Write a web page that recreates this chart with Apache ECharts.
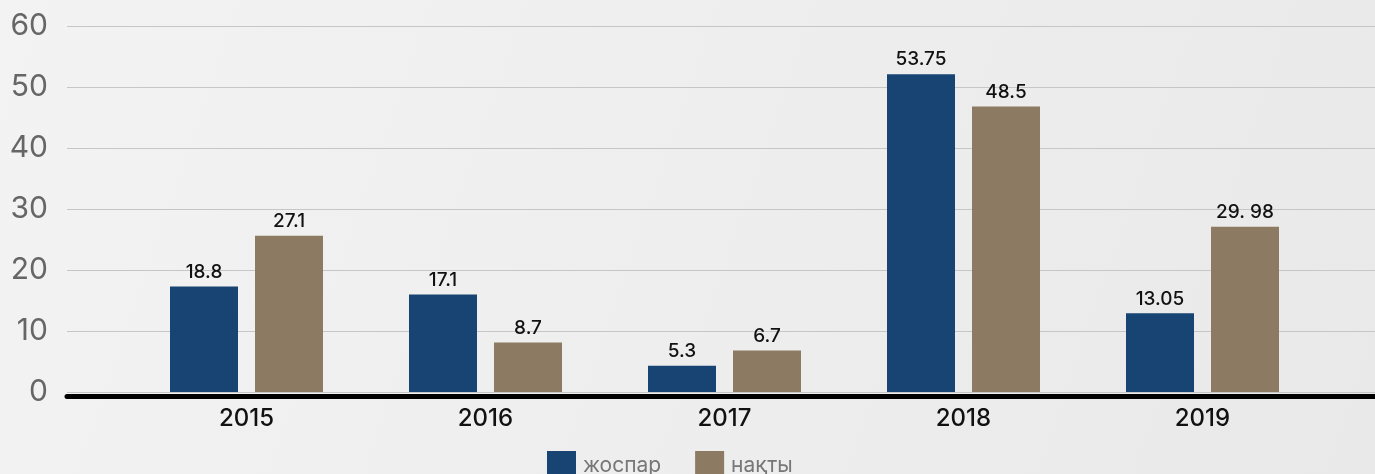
<!DOCTYPE html>
<html><head><meta charset="utf-8">
<script src="https://cdn.jsdelivr.net/npm/echarts@6/dist/echarts.min.js"></script>
<style>html,body{margin:0;padding:0;}#c{width:1375px;height:474px;}</style>
</head><body><div id="c"></div>
<script>
const categories = ['2015', '2016', '2017', '2018', '2019'];
const seriesNames = ['жоспар', 'нақты'];
// bar heights as drawn in the picture
const planValues = [17.3, 16.0, 4.3, 52.1, 12.9];
const actualValues = [25.6, 8.1, 6.8, 46.8, 27.1];
// value labels as printed above the bars
const planLabels = ['18.8', '17.1', '5.3', '53.75', '13.05'];
const actualLabels = ['27.1', '8.7', '6.7', '48.5', '29. 98'];
const yTicks = [0, 10, 20, 30, 40, 50, 60];

const FONT = 'Inter';
const chart = echarts.init(document.getElementById('c'));
chart.setOption({
  backgroundColor: new echarts.graphic.LinearGradient(0, 0, 1, 1, [
    {offset: 0, color: '#f3f3f3'}, {offset: 1, color: '#e9e9e9'}
  ]),
  animation: false,
  textStyle: {fontFamily: FONT},
  legend: {
    data: seriesNames, left: 547, top: 451, padding: 0, itemWidth: 29, itemHeight: 29, itemGap: 34,
    icon: 'rect',
    textStyle: {fontFamily: FONT, fontSize: 21, color: '#777777', padding: [0, 0, 0, 2]}
  },
  grid: [
    {left: 67, right: 0, top: 26, height: 366},
    {left: 127, width: 1195, top: 26, height: 366}
  ],
  xAxis: [
    {gridIndex: 0, type: 'category', data: [''], offset: 4,
     axisLine: {show: true, onZero: false, lineStyle: {color: '#000', width: 5}},
     axisTick: {show: false}, axisLabel: {show: false}},
    {gridIndex: 1, type: 'category', data: categories,
     axisLine: {show: false}, axisTick: {show: false},
     axisLabel: {color: '#111', fontFamily: FONT, fontSize: 24, fontWeight: 500, margin: 15}}
  ],
  yAxis: [
    {gridIndex: 0, type: 'value', min: 0, max: 60, interval: 10,
     axisLine: {show: false}, axisTick: {show: false},
     axisLabel: {color: '#666666', fontFamily: FONT, fontSize: 30, margin: 19,
       formatter: v => yTicks.includes(v) ? String(v) : ''},
     splitLine: {lineStyle: {color: '#c6c6c6', width: 1}}},
    {gridIndex: 1, type: 'value', min: 0, max: 60, interval: 10, show: false,
     splitLine: {show: false}}
  ],
  series: [
    {name: seriesNames[0], type: 'bar', xAxisIndex: 1, yAxisIndex: 1,
     data: planValues, barWidth: 68, barGap: '25%',
     itemStyle: {color: '#174472'},
     label: {show: true, position: 'top', distance: 5, color: '#111', fontFamily: FONT, fontSize: 19, fontWeight: 500,
       formatter: p => planLabels[p.dataIndex]}},
    {name: seriesNames[1], type: 'bar', xAxisIndex: 1, yAxisIndex: 1,
     data: actualValues, barWidth: 68, barGap: '25%',
     itemStyle: {color: '#8c7a62'},
     label: {show: true, position: 'top', distance: 5, color: '#111', fontFamily: FONT, fontSize: 19, fontWeight: 500,
       formatter: p => actualLabels[p.dataIndex]}}
  ]
});
</script></body></html>
